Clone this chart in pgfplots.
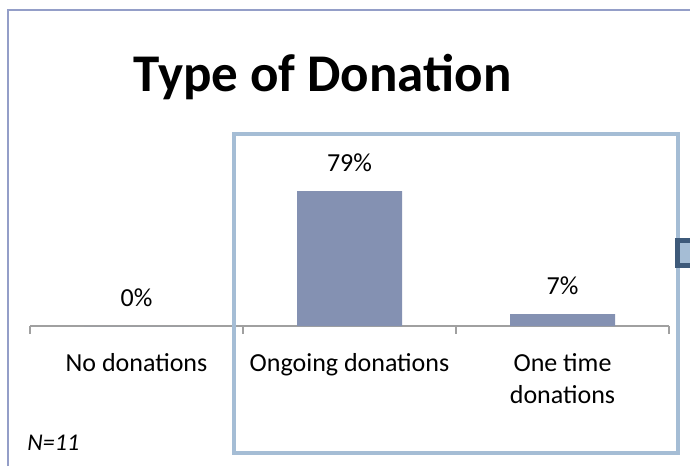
\documentclass[border=0pt]{standalone}
\usepackage{pgfplots}
\pgfplotsset{compat=1.18}
\usepackage{fontspec}
\setmainfont{Carlito}

\definecolor{barcol}{RGB}{132,145,178}
\definecolor{rectcol}{RGB}{165,189,213}
\definecolor{framecol}{RGB}{148,158,200}
\definecolor{axisgray}{RGB}{160,160,160}
\definecolor{handledark}{RGB}{62,90,122}

\begin{document}
\begin{tikzpicture}[x=1pt,y=1pt]
\path[use as bounding box] (0,0) rectangle (345,233);

% outer chart frame (cut at the right and bottom)
\draw[framecol, line width=1.1pt] (4,0) -- (4,228) -- (345,228);

% title
\node[anchor=base, font=\fontsize{26.5}{30}\selectfont\bfseries] at (161.25,187) {Type of Donation};

\begin{axis}[
    at={(15pt,70pt)}, anchor=south west,
    scale only axis,
    width=319.5pt, height=85.44pt,
    xmin=0, xmax=3, ymin=0, ymax=100,
    enlargelimits=false,
    clip=false,
    hide y axis,
    axis x line=bottom,
    x axis line style={-, draw=axisgray, line width=1pt},
    xtick={0.5,1.5,2.5},
    xticklabels={No donations, Ongoing donations, {One time\\donations}},
    xtick style={draw=none},
    xticklabel style={align=center, anchor=north, yshift=-6pt,
        font=\fontsize{13}{16}\selectfont},
    extra x ticks={0,1,2,3},
    extra x tick labels={},
    extra x tick style={xtick style={draw=axisgray, line width=1pt},
        major tick length=4pt, tick align=outside},
    ybar,
    bar width=52.5pt,
    nodes near coords={\pgfmathprintnumber{\pgfplotspointmeta}\%},
    every node near coord/.append style={anchor=base, yshift=10pt, text=black,
        font=\fontsize{13}{16}\selectfont},
    /pgf/number format/assume math mode=true,
]
\addplot[fill=barcol, draw=none] coordinates {(0.5,0) (1.5,79) (2.5,7)};
\end{axis}

% selection frame and handle
\begin{scope}
\clip (0,0) rectangle (345,233);
\draw[rectcol, line width=2pt] (116.85,6.5) rectangle (339,166);
\draw[handledark, fill=rectcol, line width=2.5pt] (338.75,100.25) rectangle (348,112.75);
\end{scope}

% sample size note
\node[anchor=base west, inner sep=0pt, font=\fontsize{12}{14}\selectfont\itshape] at (13.5,8) {N=11};
\end{tikzpicture}
\end{document}
